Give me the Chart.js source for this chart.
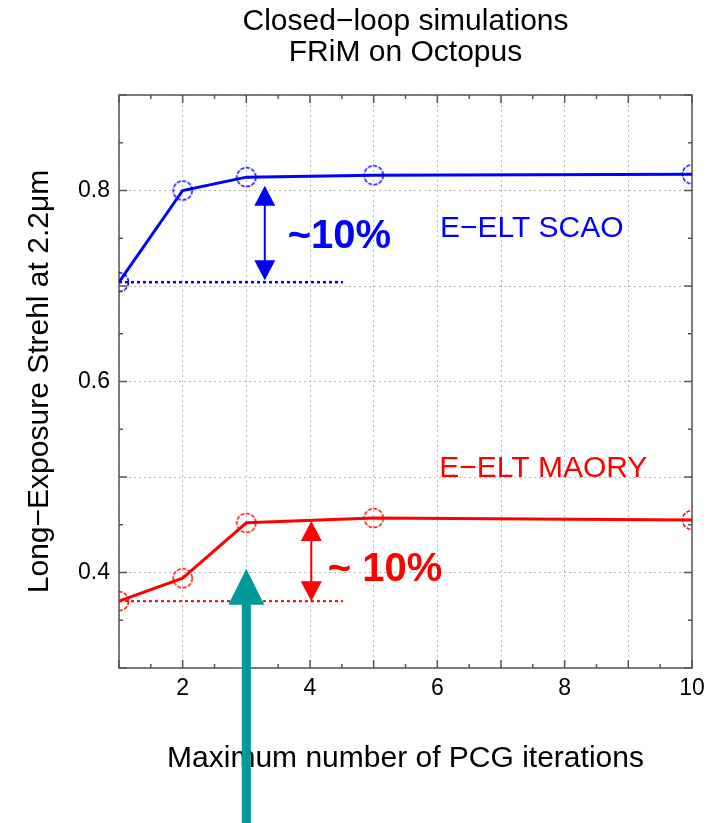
<!DOCTYPE html>
<html>
<head>
<title>Closed-loop simulations - FRiM on Octopus</title>
<script src="https://cdn.jsdelivr.net/npm/chart.js"></script>
<style>
  body { margin: 0; background: #fff; }
  #wrap { width: 715px; height: 823px; }
</style>
</head>
<body>
<div id="wrap"><canvas id="chart"></canvas></div>
<script>
// values
const iterations = [1, 2, 3, 5, 10];
const scaoStrehl = [0.704, 0.800, 0.814, 0.816, 0.817];
const maoryStrehl = [0.370, 0.394, 0.452, 0.457, 0.455];
const xTickLabels = [2, 4, 6, 8, 10];
const yTickLabels = [0.4, 0.6, 0.8];

// annotations, in data units
const refLines = [
  { y: 0.704, from: 1, to: 4.52, color: '#0000ff', width: 2.5 },
  { y: 0.370, from: 1, to: 4.52, color: '#ff0000', width: 2 }
];
const gainArrows = [
  { x: 3.29, top: 0.805, bottom: 0.706, color: '#0000ff' },
  { x: 4.02, top: 0.454, bottom: 0.370, color: '#ff0000' }
];
const notes = [
  { text: '~10%', x: 3.65, y: 0.751, color: '#0000ff', font: 'bold 40px "Liberation Sans"' },
  { text: '~ 10%', x: 4.28, y: 0.403, color: '#ff0000', font: 'bold 40px "Liberation Sans"' },
  { text: 'E\u2212ELT SCAO', x: 6.04, y: 0.760, color: '#0000ff', font: '30px "Liberation Sans"' },
  { text: 'E\u2212ELT MAORY', x: 6.03, y: 0.509, color: '#ff0000', font: '30px "Liberation Sans"' }
];
const pointerTip = { x: 3, y: 0.404 };

const BLUE = '#0000ff', RED = '#ff0000', TEAL = '#009999';

function dashedCircle(color) {
  const c = document.createElement('canvas');
  c.width = 22; c.height = 22;
  const g = c.getContext('2d');
  g.strokeStyle = color;
  g.lineWidth = 1.5;
  g.setLineDash([4, 1.5]);
  g.beginPath();
  g.arc(11, 11, 9.5, 0, Math.PI * 2);
  g.stroke();
  return c;
}

function toPoints(ys) {
  return iterations.map((x, i) => ({ x: x, y: ys[i] }));
}

function arrowHead(ctx, x, y, dir, w, h) {
  // dir = -1 points up, +1 points down
  ctx.beginPath();
  ctx.moveTo(x, y);
  ctx.lineTo(x - w / 2, y - dir * h);
  ctx.lineTo(x + w / 2, y - dir * h);
  ctx.closePath();
  ctx.fill();
}

const framePlugin = {
  id: 'frame',
  beforeDatasetsDraw(chart) {
    const { ctx, chartArea: a, scales: { x, y } } = chart;
    ctx.save();
    ctx.strokeStyle = '#555';
    ctx.lineWidth = 1.5;
    ctx.strokeRect(a.left, a.top, a.right - a.left, a.bottom - a.top);
    ctx.beginPath();
    for (let i = 2; i <= 20; i++) {
      const px = x.getPixelForValue(i / 2);
      const len = i % 2 === 0 ? 8 : 4;
      ctx.moveTo(px, a.bottom); ctx.lineTo(px, a.bottom - len);
      ctx.moveTo(px, a.top); ctx.lineTo(px, a.top + len);
    }
    for (let i = 6; i <= 18; i++) {
      const py = y.getPixelForValue(i * 0.05);
      const len = i % 2 === 0 ? 8 : 4;
      ctx.moveTo(a.left, py); ctx.lineTo(a.left + len, py);
      ctx.moveTo(a.right, py); ctx.lineTo(a.right - len, py);
    }
    ctx.stroke();

    // dotted reference levels
    refLines.forEach(l => {
      ctx.strokeStyle = l.color;
      ctx.lineWidth = l.width;
      ctx.setLineDash([3, 3]);
      ctx.beginPath();
      ctx.moveTo(x.getPixelForValue(l.from), y.getPixelForValue(l.y));
      ctx.lineTo(x.getPixelForValue(l.to), y.getPixelForValue(l.y));
      ctx.stroke();
    });
    ctx.restore();
  },
  afterDatasetsDraw(chart) {
    const { ctx, scales: { x, y } } = chart;
    ctx.save();
    gainArrows.forEach(ar => {
      const px = x.getPixelForValue(ar.x);
      const t = y.getPixelForValue(ar.top), b = y.getPixelForValue(ar.bottom);
      ctx.strokeStyle = ar.color;
      ctx.fillStyle = ar.color;
      ctx.lineWidth = 2;
      ctx.beginPath();
      ctx.moveTo(px, t + 10); ctx.lineTo(px, b - 10);
      ctx.stroke();
      arrowHead(ctx, px, t, -1, 21, 20);
      arrowHead(ctx, px, b, 1, 21, 20);
    });
    ctx.textBaseline = 'middle';
    ctx.textAlign = 'left';
    notes.forEach(n => {
      ctx.font = n.font;
      ctx.fillStyle = n.color;
      ctx.fillText(n.text, x.getPixelForValue(n.x), y.getPixelForValue(n.y));
    });
    ctx.restore();
  },
  afterDraw(chart) {
    const { ctx, scales: { x, y } } = chart;
    const px = x.getPixelForValue(pointerTip.x);
    const py = y.getPixelForValue(pointerTip.y);
    ctx.save();
    ctx.fillStyle = TEAL;
    ctx.fillRect(px - 4.5, py + 34, 9, chart.height - py);
    arrowHead(ctx, px, py, -1, 36, 36);
    ctx.restore();
  }
};

const tickFont = { family: '"Liberation Sans"', size: 23 };
const labelFont = { family: '"Liberation Sans"', size: 30 };

new Chart(document.getElementById('chart'), {
  type: 'line',
  data: {
    datasets: [
      {
        label: 'E-ELT SCAO',
        data: toPoints(scaoStrehl),
        borderColor: BLUE,
        borderWidth: 3,
        pointStyle: dashedCircle(BLUE),
        pointRadius: 10,
        clip: 0
      },
      {
        label: 'E-ELT MAORY',
        data: toPoints(maoryStrehl),
        borderColor: RED,
        borderWidth: 3,
        pointStyle: dashedCircle(RED),
        pointRadius: 10,
        clip: 0
      }
    ]
  },
  options: {
    responsive: true,
    maintainAspectRatio: false,
    animation: false,
    layout: { padding: { left: 0, right: 23, top: 0, bottom: 0 } },
    plugins: {
      legend: { display: false },
      tooltip: { enabled: false },
      title: {
        display: true,
        fullSize: false,
        text: ['Closed\u2212loop simulations', 'FRiM on Octopus'],
        color: '#000',
        font: { family: '"Liberation Sans"', size: 30, weight: 'normal', lineHeight: '31px' },
        padding: { top: 6.5, bottom: 26.5 }
      }
    },
    scales: {
      x: {
        type: 'linear',
        min: 1,
        max: 10,
        afterFit(scale) { scale.height = 155; },
        border: { display: false, dash: [2, 3] },
        grid: { color: '#b8b8b8', drawTicks: false },
        ticks: {
          stepSize: 1,
          padding: 7,
          color: '#000',
          font: tickFont,
          maxRotation: 0,
          autoSkip: false,
          callback: v => xTickLabels.includes(Math.round(v)) ? String(Math.round(v)) : ''
        },
        title: {
          display: true,
          text: 'Maximum number of PCG iterations',
          color: '#000',
          font: labelFont,
          padding: { top: 0, bottom: 46 }
        }
      },
      y: {
        min: 0.3,
        max: 0.9,
        afterFit(scale) { scale.width = 119; },
        border: { display: false, dash: [2, 3] },
        grid: { color: '#b8b8b8', drawTicks: false },
        ticks: {
          stepSize: 0.1,
          padding: 9,
          color: '#000',
          font: tickFont,
          autoSkip: false,
          callback: v => {
            const k = Math.round(v * 10) / 10;
            return yTickLabels.includes(k) ? k.toFixed(1) : '';
          }
        },
        title: {
          display: true,
          text: 'Long\u2212Exposure Strehl at 2.2\u03bcm',
          color: '#000',
          font: labelFont,
          padding: { top: 22, bottom: 0 }
        }
      }
    }
  },
  plugins: [framePlugin]
});
</script>
</body>
</html>
